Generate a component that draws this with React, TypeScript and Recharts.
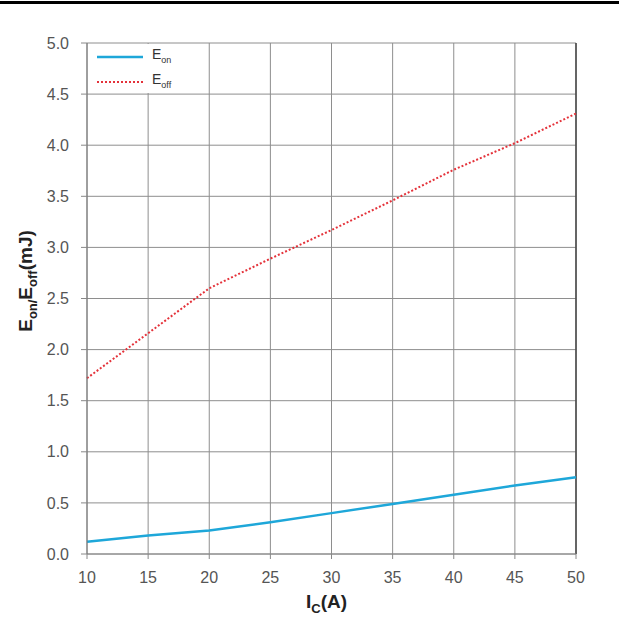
import React from "react";
import { LineChart, Line, XAxis, YAxis, CartesianGrid, ReferenceLine } from "recharts";

const currents = [10, 15, 20, 25, 30, 35, 40, 45, 50];
const eonValues = [0.12, 0.18, 0.23, 0.31, 0.4, 0.49, 0.58, 0.67, 0.75];
const eoffValues = [1.72, 2.16, 2.6, 2.89, 3.17, 3.46, 3.76, 4.02, 4.31];
const xTicks = [10, 15, 20, 25, 30, 35, 40, 45, 50];
const yTicks = [0, 0.5, 1, 1.5, 2, 2.5, 3, 3.5, 4, 4.5, 5];

const EON_COLOR = "#1ea7d9";
const EOFF_COLOR = "#e4323a";
const FONT = "'Liberation Sans', Arial, sans-serif";

const data = currents.map((c, i) => ({ ic: c, eon: eonValues[i], eoff: eoffValues[i] }));

const XLabel = (props: any) => {
  const vb = props.viewBox || {};
  const cx = vb.x + vb.width / 2 - 5;
  return (
    <text x={cx} y={608} textAnchor="middle" fontFamily={FONT} fontWeight="bold" fontSize={19} fill="#222">
      <tspan>I</tspan>
      <tspan dy={5} fontSize={13}>C</tspan>
      <tspan dy={-5}>(A)</tspan>
    </text>
  );
};

const YLabel = (props: any) => {
  const x = 32;
  const y = 281;
  return (
    <text
      x={x}
      y={y}
      transform={`rotate(-90, ${x}, ${y})`}
      textAnchor="middle"
      fontFamily={FONT}
      fontWeight="bold"
      fontSize={19}
      fill="#222"
    >
      <tspan>E</tspan>
      <tspan dy={5} fontSize={13}>on/</tspan>
      <tspan dy={-5}>E</tspan>
      <tspan dy={5} fontSize={13}>off</tspan>
      <tspan dy={-5}>(mJ)</tspan>
    </text>
  );
};

const legendItems = [
  { main: "E", sub: "on", color: EON_COLOR, dash: undefined as string | undefined, width: 2.5 },
  { main: "E", sub: "off", color: EOFF_COLOR, dash: "2 2", width: 2 },
];

export default function App() {
  return (
    <div style={{ position: "absolute", left: 0, top: 0, width: 619, height: 625, background: "#fff" }}>
      <div style={{ position: "absolute", left: 0, top: 1, width: 619, height: 3, background: "#000" }} />
      <LineChart width={619} height={625} data={data} margin={{ top: 43, right: 43, bottom: 0, left: 0 }}>
        <CartesianGrid stroke="#8e8e8e" strokeWidth={1} />
        <XAxis
          dataKey="ic"
          type="number"
          domain={[10, 50]}
          ticks={xTicks}
          height={71}
          tickSize={5}
          tickMargin={13}
          tick={{ fontFamily: FONT, fontSize: 16, fill: "#555" }}
          axisLine={{ stroke: "#888" }}
          tickLine={{ stroke: "#888" }}
          label={<XLabel />}
        />
        <YAxis
          type="number"
          domain={[0, 5]}
          ticks={yTicks}
          width={87}
          tickSize={6}
          tickMargin={12}
          tickFormatter={(v: number) => v.toFixed(1)}
          tick={{ fontFamily: FONT, fontSize: 16, fill: "#555" }}
          axisLine={{ stroke: "#777" }}
          tickLine={{ stroke: "#888" }}
          label={<YLabel />}
        />
        <ReferenceLine x={50} stroke="#444" strokeWidth={1.5} />
        <Line
          type="linear"
          dataKey="eoff"
          stroke={EOFF_COLOR}
          strokeWidth={2}
          strokeDasharray="2 2"
          dot={false}
          isAnimationActive={false}
        />
        <Line
          type="linear"
          dataKey="eon"
          stroke={EON_COLOR}
          strokeWidth={2.5}
          dot={false}
          isAnimationActive={false}
        />
      </LineChart>
      <div
        style={{
          position: "absolute",
          left: 88,
          top: 44,
          width: 96,
          height: 49,
          background: "#fff",
          fontFamily: FONT,
        }}
      >
        {legendItems.map((it, i) => (
          <div key={i} style={{ position: "absolute", left: 9, top: 5 + i * 25, height: 16, display: "flex", alignItems: "center" }}>
            <svg width={47} height={16} style={{ display: "block" }}>
              <line x1={0} y1={8} x2={46} y2={8} stroke={it.color} strokeWidth={it.width} strokeDasharray={it.dash} />
            </svg>
            <span style={{ marginLeft: 8, fontSize: 14, color: "#333", lineHeight: "16px" }}>
              {it.main}
              <sub style={{ fontSize: 9, verticalAlign: "-4px" }}>{it.sub}</sub>
            </span>
          </div>
        ))}
      </div>
    </div>
  );
}
